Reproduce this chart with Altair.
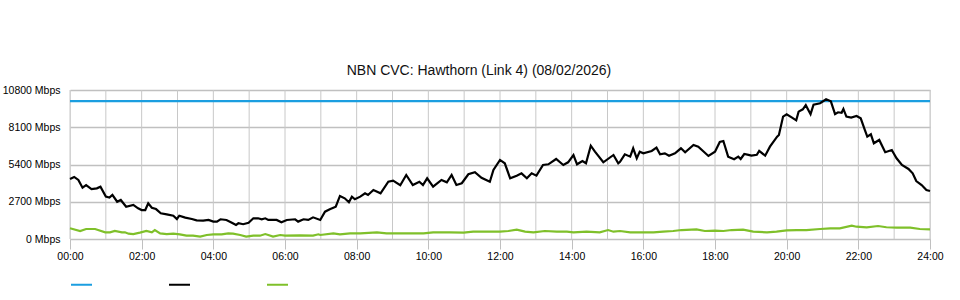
import altair as alt
import pandas as pd

# ---- data ----
series_names = ["Capacity", "Download", "Upload"]
series_colors = ["#1b9ee0", "#000000", "#7fc02a"]

capacity_minutes = [0, 1440]
capacity_values = [10000, 10000]

download_minutes = [0, 7, 14, 21, 27, 36, 45, 51, 60, 66, 71, 79, 85, 94, 106, 114, 120, 126, 131, 137,
                    144, 152, 162, 173, 179, 183, 193, 204, 212, 223, 232, 240, 246, 252, 262, 271, 278,
                    282, 290, 299, 307, 315, 321, 327, 332, 346, 354, 363, 377, 382, 391, 399, 407, 419,
                    427, 435, 445, 452, 460, 467, 472, 477, 486, 494, 499, 508, 520, 533, 541, 553, 563,
                    574, 585, 591, 598, 608, 622, 631, 639, 647, 656, 667, 678, 689, 703, 709, 720, 728,
                    737, 748, 756, 765, 773, 781, 792, 801, 814, 826, 834, 843, 849, 858, 864, 872, 879,
                    893, 910, 918, 921, 929, 938, 943, 949, 954, 960, 974, 982, 988, 996, 1003, 1013,
                    1023, 1030, 1044, 1052, 1069, 1080, 1088, 1094, 1102, 1112, 1119, 1123, 1129, 1136,
                    1141, 1150, 1154, 1164, 1172, 1184, 1187, 1194, 1200, 1209, 1216, 1220, 1227, 1232,
                    1240, 1245, 1256, 1266, 1274, 1281, 1286, 1292, 1295, 1300, 1308, 1317, 1324, 1331,
                    1335, 1341, 1346, 1355, 1365, 1376, 1384, 1393, 1404, 1411, 1417, 1426, 1434, 1440]
download_values = [4350, 4500, 4280, 3720, 3900, 3620, 3670, 3790, 3070, 3000, 3190, 2700, 2830, 2340, 2470,
                   2220, 2100, 2100, 2580, 2270, 2170, 1860, 1790, 1690, 1450, 1690, 1550, 1450, 1350, 1330,
                   1380, 1260, 1260, 1430, 1380, 1180, 1015, 1140, 1070, 1180, 1500, 1500, 1430, 1500, 1380,
                   1380, 1210, 1380, 1430, 1260, 1430, 1380, 1570, 1380, 1980, 2150, 2340, 3120, 2950, 2660,
                   3070, 2880, 3070, 3310, 3190, 3550, 3310, 4150, 4230, 3900, 4640, 3915, 4150, 3915, 4400,
                   3790, 4280, 4110, 4640, 3915, 4040, 4690, 4840, 4440, 4150, 5000, 5730, 5490, 4400, 4590,
                   4760, 4400, 4760, 4590, 5365, 5415, 5800, 5365, 5560, 6090, 5415, 5655, 5490, 6760, 6330,
                   5560, 6090, 5490, 5600, 6140, 5970, 6575, 5850, 6330, 6210, 6380, 6620, 6140, 6210, 6040,
                   6210, 6575, 6290, 6815, 6690, 6020, 6330, 7030, 7100, 5970, 5780, 5970, 5800, 6160, 6100,
                   6040, 6100, 6380, 6040, 6690, 7420, 7540, 8870, 9040, 8800, 8600, 9230, 9400, 9700, 9050,
                   9740, 9840, 10130, 9980, 9050, 9185, 9150, 9425, 8870, 8800, 8920, 8750, 7900, 7420, 7590,
                   6940, 7180, 6290, 6450, 5850, 5365, 5075, 4760, 4200, 3915, 3550, 3480]

upload_minutes = [0, 17, 27, 42, 59, 67, 75, 87, 92, 98, 106, 117, 128, 137, 142, 151, 162, 173, 184, 195,
                  206, 218, 229, 240, 254, 265, 273, 285, 295, 307, 318, 327, 332, 340, 352, 360, 385, 407,
                  416, 419, 441, 452, 469, 486, 514, 530, 553, 592, 608, 636, 659, 675, 720, 734, 748, 762,
                  776, 795, 815, 832, 843, 865, 887, 901, 910, 921, 938, 960, 977, 993, 1010, 1024, 1049,
                  1063, 1080, 1094, 1108, 1127, 1144, 1167, 1183, 1200, 1217, 1233, 1256, 1273, 1289, 1309,
                  1317, 1334, 1353, 1367, 1384, 1407, 1423, 1440]
upload_values = [775, 580, 725, 725, 485, 485, 580, 485, 485, 385, 360, 460, 580, 485, 650, 410, 360, 385,
                 340, 240, 240, 170, 290, 340, 340, 410, 385, 290, 170, 240, 240, 360, 290, 170, 290, 240,
                 260, 240, 340, 290, 410, 340, 410, 410, 485, 410, 410, 410, 485, 485, 460, 530, 530, 580,
                 675, 530, 485, 580, 530, 530, 485, 530, 485, 650, 530, 580, 485, 485, 485, 530, 580, 650,
                 700, 580, 600, 580, 650, 675, 530, 485, 530, 630, 650, 650, 725, 775, 775, 965, 890, 850,
                 940, 850, 820, 820, 725, 700]

hour_grid = list(range(0, 25))
x_tick_values = list(range(0, 1441, 120))
y_tick_values = [0, 2700, 5400, 8100, 10800]

# ---- build table ----
rows = []
for m, v in zip(capacity_minutes, capacity_values):
    rows.append({"series": "Capacity", "minute": m, "mbps": v})
for m, v in zip(download_minutes, download_values):
    rows.append({"series": "Download", "minute": m, "mbps": v})
for m, v in zip(upload_minutes, upload_values):
    rows.append({"series": "Upload", "minute": m, "mbps": v})
df = pd.DataFrame(rows)
grid_df = pd.DataFrame({"minute": [h * 60 for h in hour_grid]})

FONT = "Liberation Sans"

x_scale = alt.Scale(domain=[0, 1440], nice=False, zero=False)
y_scale = alt.Scale(domain=[0, 10800], nice=False)

x_axis = alt.Axis(
    values=x_tick_values,
    labelExpr="(floor(datum.value/60) < 10 ? '0' : '') + floor(datum.value/60) + ':00'",
    title=None,
    grid=False,
    domainColor="#c0c0c0",
    tickColor="#c0c0c0",
    tickSize=10,
    labelPadding=2,
    labelFont=FONT,
    labelFontSize=10.5,
    labelColor="#000000",
    labelFlush=False,
)

grid = alt.Chart(grid_df).mark_rule(color="#c8c8c8", strokeWidth=1).encode(
    x=alt.X("minute:Q", scale=x_scale, axis=x_axis)
)

lines = alt.Chart(df).mark_line(strokeWidth=2.2, interpolate="linear").encode(
    x=alt.X("minute:Q", scale=x_scale, axis=x_axis),
    y=alt.Y(
        "mbps:Q",
        scale=y_scale,
        axis=alt.Axis(
            values=y_tick_values,
            labelExpr="datum.value + ' Mbps'",
            title=None,
            domain=False,
            ticks=False,
            grid=True,
            gridColor="#c0c0c0",
            gridWidth=1.5,
            labelPadding=10,
            labelFont=FONT,
            labelFontSize=10.5,
            labelColor="#000000",
        ),
    ),
    color=alt.Color(
        "series:N",
        scale=alt.Scale(domain=series_names, range=series_colors),
        legend=alt.Legend(
            title=None,
            orient="none",
            legendX=0,
            legendY=183,
            direction="horizontal",
            symbolType="stroke",
            symbolStrokeWidth=2,
            symbolSize=441,
            labelExpr="''",
            labelOffset=0,
            columnPadding=69,
        ),
    ),
    order=alt.Order("minute:Q"),
)

chart = (
    alt.layer(grid, lines)
    .properties(
        width=860,
        height=149,
        title=alt.TitleParams(
            "NBN CVC: Hawthorn (Link 4) (08/02/2026)",
            font=FONT,
            fontSize=14,
            fontWeight="normal",
            color="#111111",
            anchor="middle",
            dx=-21,
            offset=7,
        ),
        autosize=alt.AutoSizeParams(type="none"),
        padding={"left": 70, "top": 90, "right": 30, "bottom": 61},
    )
    .configure_view(stroke=None)
    .configure(background="white")
)

chart.save("out.html", embed_options={"renderer": "svg", "actions": False})
